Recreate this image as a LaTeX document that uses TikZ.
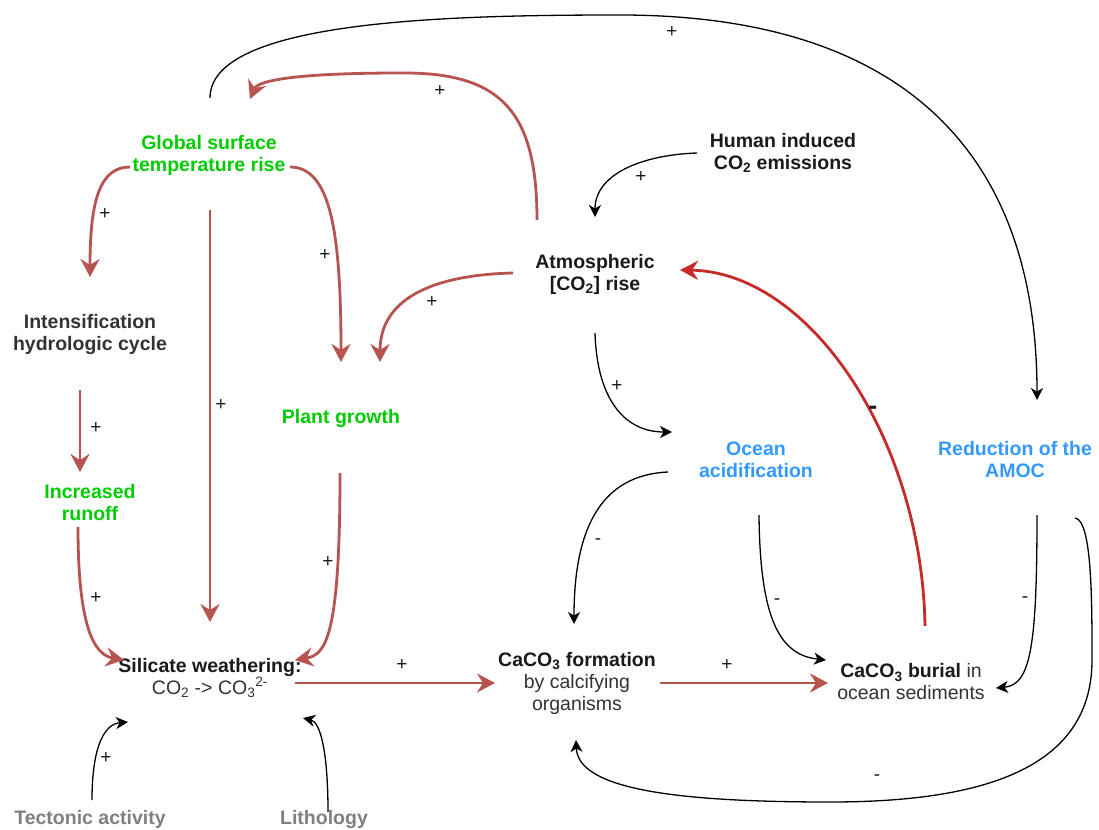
\documentclass[tikz,border=0pt]{standalone}
\usepackage{fontspec}
\setmainfont{Liberation Sans}
\usetikzlibrary{arrows.meta}
\definecolor{ered}{HTML}{B85450}
\definecolor{dred}{HTML}{C62B27}
\definecolor{tgreen}{HTML}{00CC00}
\definecolor{tblue}{HTML}{3399FF}
\definecolor{tgray}{HTML}{808080}
\definecolor{tdark}{HTML}{333333}
\definecolor{tblack}{HTML}{1A1A1A}
\begin{document}
\begin{tikzpicture}[x=1pt,y=-1pt,
  txt/.style={font=\fontsize{19.5}{22}\selectfont, align=center, inner sep=0pt, text=tblack},
  btxt/.style={font=\fontsize{19.5}{22}\selectfont\bfseries, align=center, inner sep=0pt},
  redarr/.style={draw=ered, line width=2.8pt, -{Stealth[length=18pt,width=19pt,inset=6pt]}},
  darkredarr/.style={draw=dred, line width=2.8pt, -{Stealth[length=18pt,width=19pt,inset=6pt]}},
  blkarr/.style={draw=black, line width=1.3pt, -{Stealth[length=12pt,width=12pt,inset=3.5pt]}},
  sign/.style={font=\fontsize{19}{20}\selectfont, inner sep=0pt, text=tblack},
  bsign/.style={font=\fontsize{26}{28}\selectfont\bfseries, inner sep=0pt, text=tblack}]
\fill[white] (0,0) rectangle (1099,829);
\useasboundingbox (0,0) rectangle (1099,829);

% nodes
\node[btxt, text=tgreen] (glob) at (209,155) {Global surface\\temperature rise};
\node[btxt, text=tblack] (human) at (783,153) {Human induced\\CO\textsubscript{2} emissions};
\node[btxt, text=tblack] (atm) at (595,274) {Atmospheric\\{}[CO\textsubscript{2}] rise};
\node[btxt, text=tdark] (intens) at (90,334) {Intensification\\hydrologic cycle};
\node[btxt, text=tgreen] (plant) at (341,418) {Plant growth};
\node[btxt, text=tgreen] (runoff) at (90,503) {Increased\\runoff};
\node[btxt, text=tblue] (ocean) at (756,460) {Ocean\\acidification};
\node[btxt, text=tblue] (amoc) at (1015,460) {Reduction of the\\AMOC};
\node[txt] (sil) at (210,678) {\textbf{Silicate weathering:}\\{\color{tdark}CO\textsubscript{2} -> CO\textsubscript{3}\textsuperscript{2-}}};
\node[txt] (form) at (577,683) {\textbf{CaCO\textsubscript{3} formation}\\{\color{tdark}by calcifying}\\{\color{tdark}organisms}};
\node[txt] (burial) at (911,682) {\textbf{CaCO\textsubscript{3} burial} {\color{tdark}in}\\{\color{tdark}ocean sediments}};
\node[btxt, text=tgray] (tect) at (90,819) {Tectonic activity};
\node[btxt, text=tgray] (lith) at (324,819) {Lithology};

% connector end points
\coordinate (glob-top) at (210,98);
\coordinate (glob-in) at (250,99);
\coordinate (glob-l) at (130,167);
\coordinate (glob-r) at (290,167);
\coordinate (glob-b) at (210,210);
\coordinate (intens-in) at (90,277);
\coordinate (intens-out) at (80,390);
\coordinate (runoff-in) at (80,472);
\coordinate (runoff-out) at (78,527);
\coordinate (plant-in1) at (341,362);
\coordinate (plant-in2) at (380,362);
\coordinate (plant-out) at (340,473);
\coordinate (human-out) at (697,153);
\coordinate (atm-in) at (595,217);
\coordinate (atm-top) at (537,220);
\coordinate (atm-l) at (513,273);
\coordinate (atm-b) at (595,333);
\coordinate (atm-r) at (680,270);
\coordinate (ocean-in) at (672,432);
\coordinate (ocean-l) at (668,472);
\coordinate (ocean-b) at (759,515);
\coordinate (amoc-in) at (1037,400);
\coordinate (amoc-b) at (1037,515);
\coordinate (amoc-r) at (1075,518);
\coordinate (sil-in1) at (124,660);
\coordinate (sil-in2) at (210,622);
\coordinate (sil-in3) at (295,660);
\coordinate (sil-in4) at (128,722);
\coordinate (sil-in5) at (303,718);
\coordinate (sil-out) at (295,683);
\coordinate (form-in) at (495,683);
\coordinate (form-top) at (574,624);
\coordinate (form-bot) at (576,740);
\coordinate (form-out) at (660,683);
\coordinate (burial-in) at (828,683);
\coordinate (burial-in2) at (826,660);
\coordinate (burial-in3) at (996,688);
\coordinate (burial-top) at (925,626);
\coordinate (tect-out) at (92,800);
\coordinate (lith-out) at (328,812);

% connectors
\draw[blkarr] (glob-top) .. controls (210,20) and (450,15) .. (620,15) .. controls (900,15) and (1037,150) .. (amoc-in);
\node[sign] at (672,32) {+};

\draw[redarr] (atm-top) .. controls (537,110) and (500,72) .. (400,73) .. controls (300,73) and (258,80) .. (glob-in);
\node[sign] at (440,91) {+};

\draw[redarr] (glob-l) .. controls (100,167) and (90,200) .. (intens-in);
\node[sign] at (105,214) {+};

\draw[redarr] (glob-r) .. controls (330,167) and (341,230) .. (plant-in1);
\node[sign] at (325,255) {+};

\draw[redarr] (glob-b) -- (sil-in2);
\node[sign] at (221,405) {+};

\draw[blkarr] (human-out) .. controls (640,155) and (595,175) .. (atm-in);
\node[sign] at (641,177) {+};

\draw[redarr] (atm-l) .. controls (430,275) and (380,300) .. (plant-in2);
\node[sign] at (432,302) {+};

\draw[blkarr] (atm-b) .. controls (597,400) and (625,432) .. (ocean-in);
\node[sign] at (617,386) {+};

\draw[darkredarr] (burial-top) .. controls (922,440) and (810,272) .. (atm-r);
\node[bsign] at (873,410) {-};

\draw[redarr] (intens-out) -- (runoff-in);
\node[sign] at (96,428) {+};

\draw[redarr] (runoff-out) .. controls (78,630) and (95,655) .. (sil-in1);
\node[sign] at (96,598) {+};

\draw[redarr] (plant-out) .. controls (340,640) and (325,655) .. (sil-in3);
\node[sign] at (328,562) {+};

\draw[redarr] (sil-out) -- (form-in);
\node[sign] at (402,665) {+};

\draw[redarr] (form-out) -- (burial-in);
\node[sign] at (727,665) {+};

\draw[blkarr] (tect-out) .. controls (92,745) and (105,724) .. (sil-in4);
\node[sign] at (106,758) {+};

\draw[blkarr] (lith-out) .. controls (328,750) and (320,722) .. (sil-in5);

\draw[blkarr] (ocean-l) .. controls (600,475) and (574,530) .. (form-top);
\node[sign] at (598,542) {-};

\draw[blkarr] (ocean-b) .. controls (760,620) and (780,655) .. (burial-in2);
\node[sign] at (777,602) {-};

\draw[blkarr] (amoc-b) .. controls (1037,650) and (1030,685) .. (burial-in3);
\node[sign] at (1025,600) {-};

\draw[blkarr] (amoc-r) .. controls (1092,520) and (1092,600) .. (1092,660) .. controls (1092,770) and (980,802) .. (830,802) .. controls (680,802) and (578,790) .. (form-bot);
\node[sign] at (877,778) {-};
\end{tikzpicture}
\end{document}
